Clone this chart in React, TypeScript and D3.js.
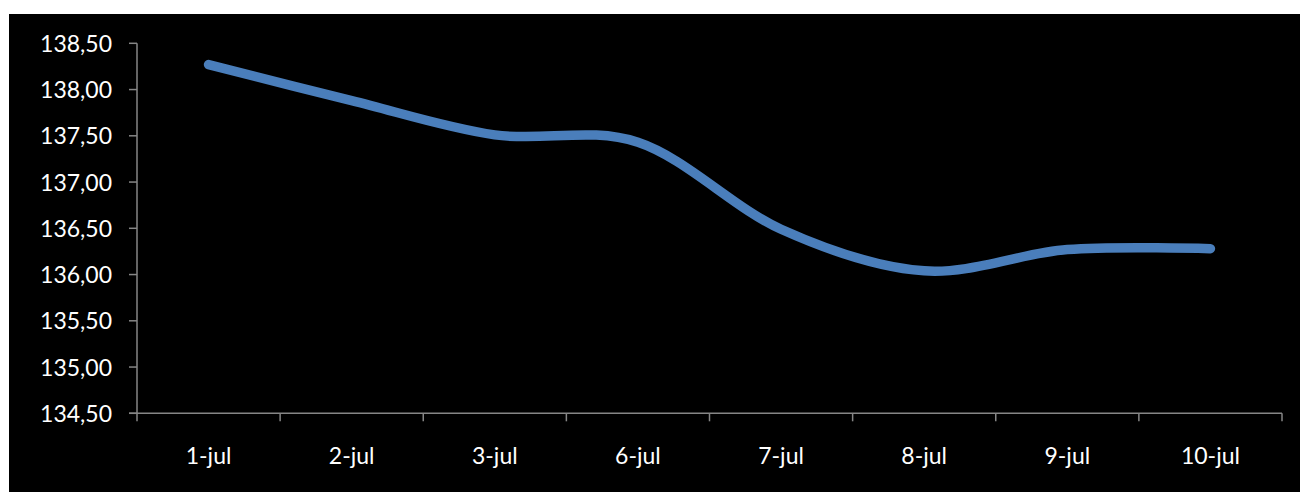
import React from "react";
import * as d3 from "d3";

const categories = ["1-jul", "2-jul", "3-jul", "6-jul", "7-jul", "8-jul", "9-jul", "10-jul"];
const values = [138.27, 137.88, 137.51, 137.43, 136.49, 136.04, 136.27, 136.28];
const yTicks = [134.5, 135.0, 135.5, 136.0, 136.5, 137.0, 137.5, 138.0, 138.5];

const W = 1300;
const H = 492;
const plot = { left: 137, right: 1282, top: 43.3, bottom: 413.3 };
const FONT = "Lato, 'Open Sans', sans-serif";
const AXIS = "#868686";
const LINE = "#4A7EBB";

const fmt = (v: number) => v.toFixed(2).replace(".", ",");

export default function App() {
  const x = d3
    .scaleBand<string>()
    .domain(categories)
    .range([plot.left, plot.right]);
  const y = d3.scaleLinear().domain([134.5, 138.5]).range([plot.bottom, plot.top]);

  const line = d3
    .line<number>()
    .x((_, i) => (x(categories[i]) as number) + x.bandwidth() / 2)
    .y((d) => y(d))
    .curve(d3.curveCardinal.tension(0));

  const boundaries = d3.range(categories.length + 1).map((i) => plot.left + i * x.step());

  return (
    <svg
      width={W}
      height={H}
      style={{ position: "absolute", left: 0, top: 0, display: "block" }}
    >
      <rect x={0} y={0} width={W} height={H} fill="#ffffff" />
      <rect x={9} y={14} width={W - 9} height={H - 14} fill="#000000" />

      {/* value axis */}
      <line x1={plot.left} x2={plot.left} y1={plot.top} y2={plot.bottom} stroke={AXIS} strokeWidth={1.5} />
      {yTicks.map((t) => (
        <g key={t}>
          <line x1={plot.left - 8} x2={plot.left} y1={y(t)} y2={y(t)} stroke={AXIS} strokeWidth={1.5} />
          <text
            x={plot.left - 25}
            y={y(t) + 8.5}
            textAnchor="end"
            fill="#ffffff"
            fontFamily={FONT}
            fontSize={23}
          >
            {fmt(t)}
          </text>
        </g>
      ))}

      {/* category axis */}
      <line x1={plot.left - 8} x2={plot.right} y1={plot.bottom} y2={plot.bottom} stroke={AXIS} strokeWidth={1.5} />
      {boundaries.map((bx, i) => (
        <line key={i} x1={bx} x2={bx} y1={plot.bottom} y2={plot.bottom + 8} stroke={AXIS} strokeWidth={1.5} />
      ))}
      {categories.map((c) => (
        <text
          key={c}
          x={(x(c) as number) + x.bandwidth() / 2}
          y={plot.bottom + 51}
          textAnchor="middle"
          fill="#ffffff"
          fontFamily={FONT}
          fontSize={23}
        >
          {c}
        </text>
      ))}

      <path
        d={line(values) ?? ""}
        fill="none"
        stroke={LINE}
        strokeWidth={9.5}
        strokeLinecap="round"
        strokeLinejoin="round"
      />
    </svg>
  );
}
